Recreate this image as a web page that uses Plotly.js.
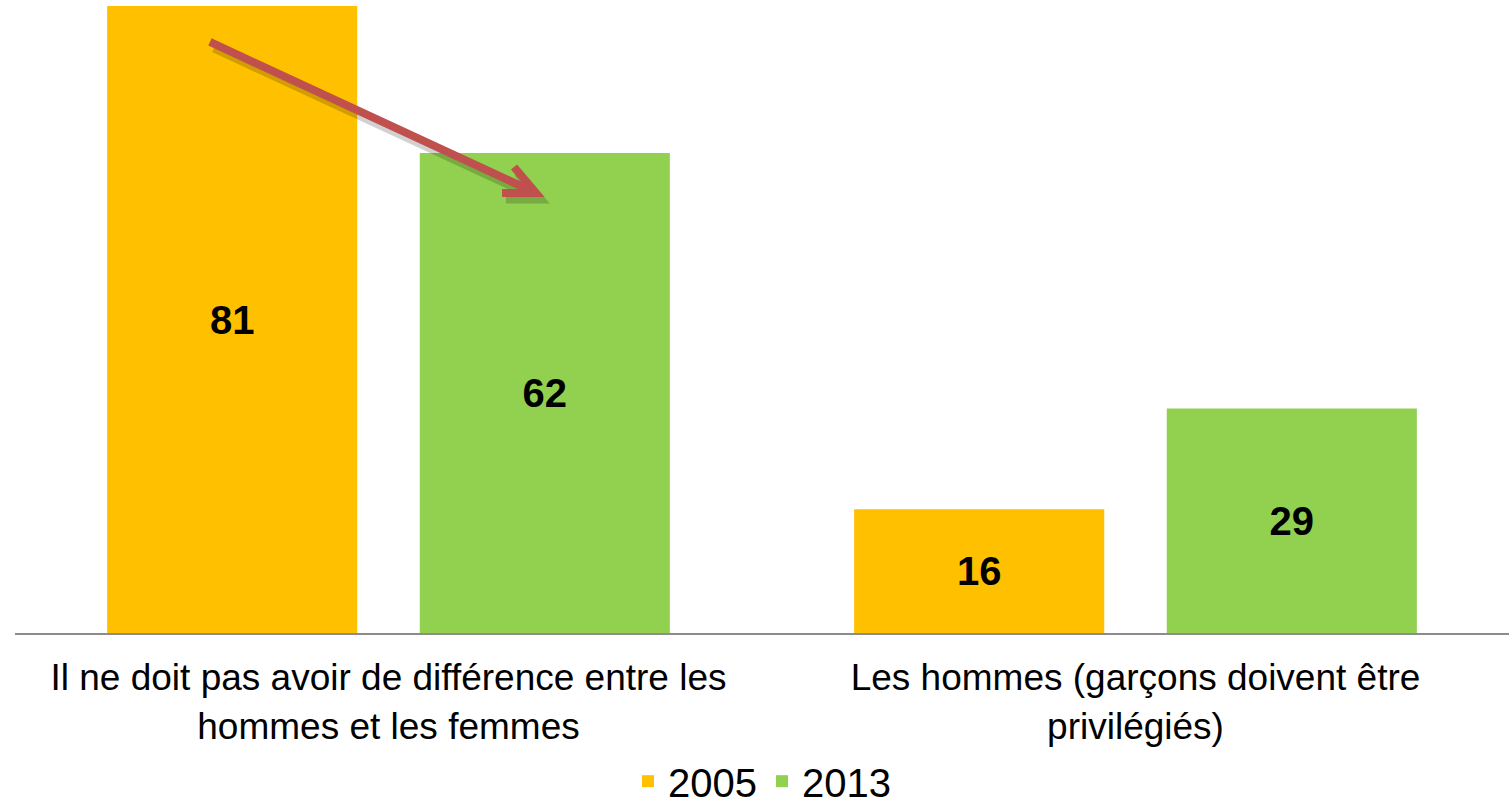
<!DOCTYPE html>
<html>
<head>
<meta charset="utf-8">
<script src="https://cdn.plot.ly/plotly-3.0.1.min.js"></script>
<style>html,body{margin:0;padding:0;background:#fff;}#chart{width:1509px;height:807px;}</style>
</head>
<body>
<div id="chart"></div>
<script>
const categories = ["Il ne doit pas avoir de différence entre les<br>hommes et les femmes", "Les hommes (garçons doivent être<br>privilégiés)"];
const series2005 = [81, 16];
const series2013 = [62, 29];
const seriesNames = ["2005", "2013"];

const FONT = "Liberation Sans, Arial, sans-serif";
const labelFont = {family: FONT, size: 40, color: "#000000", weight: "bold"};

const traces = [
  {type: "bar", name: seriesNames[0], x: categories, y: series2005, marker: {color: "#FFC000"},
   text: series2005.map(String), textposition: "inside", insidetextanchor: "middle", textfont: labelFont, hoverinfo: "none"},
  {type: "bar", name: seriesNames[1], x: categories, y: series2013, marker: {color: "#92D050"},
   text: series2013.map(String), textposition: "inside", insidetextanchor: "middle", textfont: labelFont, hoverinfo: "none"}
];

// decorative arrow (paper coordinates of the plot area)
const M = {l: 15, r: 0, t: 6, b: 174};
const PW = 1509 - M.l - M.r, PH = 807 - M.t - M.b;
function px(x) { return ((x - M.l) / PW).toFixed(4); }
function py(y) { return ((807 - M.b - y) / PH).toFixed(4); }
function arrowPath(dx, dy) {
  const tail = [210 + dx, 42 + dy], tip = [536 + dx, 193 + dy], a1 = [514 + dx, 167 + dy], a2 = [502 + dx, 193 + dy];
  return `M${px(tail[0])},${py(tail[1])} L${px(tip[0])},${py(tip[1])} M${px(a1[0])},${py(a1[1])} L${px(tip[0])},${py(tip[1])} L${px(a2[0])},${py(a2[1])}`;
}

const layout = {
  width: 1509, height: 807,
  margin: M,
  paper_bgcolor: "#ffffff", plot_bgcolor: "#ffffff",
  barmode: "group", bargap: 0.163, bargroupgap: 0.2,
  showlegend: true,
  legend: {orientation: "h", x: 0.5, xanchor: "center", xref: "paper", yref: "container", y: 0.032, yanchor: "middle",
           font: {family: FONT, size: 40, color: "#000"}, tracegroupgap: 0},
  xaxis: {type: "category", showline: true, linecolor: "#8c8c8c", linewidth: 2, ticks: "", showgrid: false, automargin: false,
          tickfont: {family: FONT, size: 37, color: "#000"}, ticklabelstandoff: 11},
  yaxis: {range: [0, 81], visible: false, showgrid: false, zeroline: false, automargin: false},
  shapes: [
    {type: "path", xref: "paper", yref: "paper", path: arrowPath(4, 6), line: {color: "rgba(0,0,0,0.18)", width: 9}, layer: "above"},
    {type: "path", xref: "paper", yref: "paper", path: arrowPath(0, 0), line: {color: "#C0504D", width: 8}, layer: "above"}
  ]
};

Plotly.newPlot("chart", traces, layout, {displayModeBar: false, staticPlot: true});
</script>
</body>
</html>
